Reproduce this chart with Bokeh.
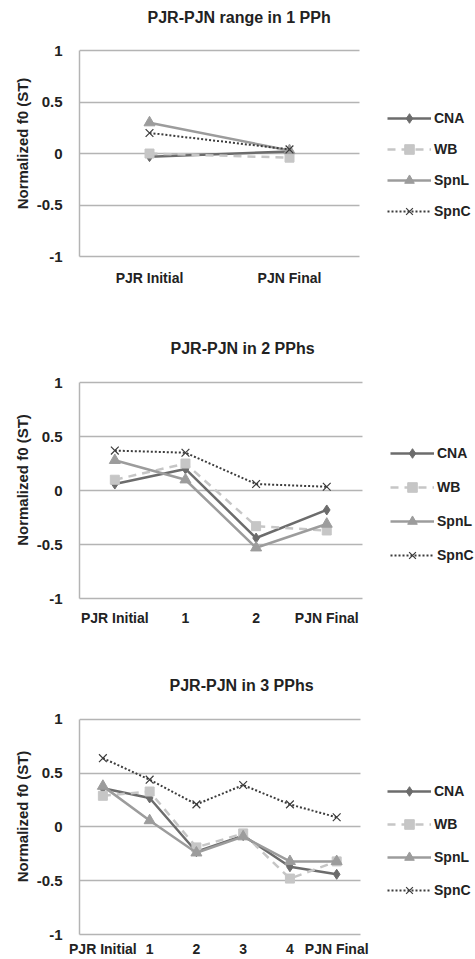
from bokeh.plotting import figure
from bokeh.models import (Range1d, FixedTicker, Legend, LegendItem, Title)
from bokeh.layouts import column
from bokeh.embed import file_html
from bokeh.resources import INLINE

# ---------------- data ----------------
cats1 = ["PJR Initial", "PJN Final"]
cna1 = [-0.03, 0.02]
wb1 = [0.00, -0.04]
spnl1 = [0.30, 0.03]
spnc1 = [0.20, 0.04]

cats2 = ["PJR Initial", "1", "2", "PJN Final"]
cna2 = [0.06, 0.20, -0.44, -0.18]
wb2 = [0.10, 0.25, -0.33, -0.37]
spnl2 = [0.28, 0.10, -0.53, -0.31]
spnc2 = [0.37, 0.35, 0.06, 0.035]

cats3 = ["PJR Initial", "1", "2", "3", "4", "PJN Final"]
cna3 = [0.36, 0.27, -0.23, -0.08, -0.37, -0.44]
wb3 = [0.29, 0.33, -0.19, -0.06, -0.48, -0.32]
spnl3 = [0.38, 0.06, -0.24, -0.09, -0.32, -0.32]
spnc3 = [0.64, 0.44, 0.21, 0.39, 0.21, 0.09]

titles = ["PJR-PJN range in 1 PPh", "PJR-PJN in 2 PPhs", "PJR-PJN in 3 PPhs"]
series_names = ["CNA", "WB", "SpnL", "SpnC"]
y_ticks = [-1, -0.5, 0, 0.5, 1]
y_title = "Normalized f0 (ST)"

FONT = "Liberation Sans"
TXT = "#222222"
GRID = "#b4b4b4"
Y_TOP = 1.195  # headroom above the top gridline, used for the title gap
W = 475

styles = {
    "CNA": dict(color="#6c6c6c", dash="solid", marker="diamond", msize=10, lw=2.5),
    "WB": dict(color="#c6c6c6", dash="8 6", marker="square", msize=9, lw=2.5),
    "SpnL": dict(color="#9c9c9c", dash="solid", marker="triangle", msize=11, lw=2.5),
    "SpnC": dict(color="#3c3c3c", dash="2 2", marker="x", msize=11, lw=2),
}


def make(cats, data, title, h, left, plot_w, top, bottom, t_off,
         xl_stand, leg_xy, leg_spacing):
    n = len(cats)
    xs = list(range(n))
    frame_w = W - left
    x_end = -0.5 + frame_w * n / plot_w  # chart area is plot_w px; rest holds the legend
    p = figure(width=W, height=h, x_range=Range1d(-0.5, x_end),
               y_range=Range1d(-1, Y_TOP), output_backend="svg", toolbar_location=None,
               min_border_left=left, min_border_right=0,
               min_border_top=top, min_border_bottom=bottom)
    p.outline_line_color = None
    p.background_fill_color = "white"
    p.border_fill_color = "white"
    t = Title(text=title, align="left", offset=t_off, standoff=10,
              text_font=FONT, text_font_size="16px", text_font_style="bold",
              text_color=TXT)
    p.add_layout(t, "above")

    p.xgrid.grid_line_color = None
    p.ygrid.grid_line_color = GRID
    p.ygrid.grid_line_width = 1.5
    p.ygrid.cross_bounds = (-0.5, n - 0.5)
    p.yaxis.ticker = FixedTicker(ticks=y_ticks)
    p.yaxis.bounds = (-1, 1)
    p.yaxis.major_label_overrides = {-1: "-1", -0.5: "-0.5", 0: "0", 0.5: "0.5", 1: "1"}
    p.xaxis.ticker = FixedTicker(ticks=xs)
    p.xaxis.bounds = (-0.5, n - 0.5)
    p.xaxis.major_label_overrides = {i: c for i, c in zip(xs, cats)}
    for ax in (p.xaxis[0], p.yaxis[0]):
        ax.axis_line_color = GRID
        ax.axis_line_width = 1.5
        ax.major_tick_line_color = None
        ax.minor_tick_line_color = None
        ax.major_tick_out = 0
        ax.major_tick_in = 0
        ax.major_label_text_font = FONT
        ax.major_label_text_font_style = "bold"
        ax.major_label_text_color = TXT
    p.yaxis.major_label_text_font_size = "15px"
    p.yaxis.major_label_standoff = 17
    p.xaxis.major_label_text_font_size = "14px"
    p.xaxis.major_label_standoff = xl_stand
    p.yaxis.axis_label = y_title
    p.yaxis.axis_label_text_font = FONT
    p.yaxis.axis_label_text_font_style = "bold"
    p.yaxis.axis_label_text_font_size = "15px"
    p.yaxis.axis_label_text_color = TXT
    p.yaxis.axis_label_standoff = 3

    items = []
    for name, ys in zip(series_names, data):
        s = styles[name]
        lr = p.line(xs, ys, line_color=s["color"], line_width=s["lw"], line_dash=s["dash"])
        if s["marker"] == "x":
            mr = p.scatter(xs, ys, marker="x", size=s["msize"], line_color=s["color"],
                           line_width=1.2)
        else:
            mr = p.scatter(xs, ys, marker=s["marker"], size=s["msize"],
                           fill_color=s["color"], line_color=s["color"])
        items.append(LegendItem(label=name, renderers=[lr, mr]))
    leg = Legend(items=items, location=leg_xy, margin=0, padding=0,
                 spacing=leg_spacing, glyph_width=44, glyph_height=24,
                 label_height=20, label_standoff=3,
                 label_text_font=FONT, label_text_font_style="bold",
                 label_text_font_size="14px", label_text_color=TXT,
                 border_line_color=None, background_fill_alpha=0)
    p.add_layout(leg, "center")
    return p


p1 = make(cats1, [cna1, wb1, spnl1, spnc1], titles[0], 320, 79, 280, 30, 64,
          68, 13, (308, 33), 7)
p2 = make(cats2, [cna2, wb2, spnl2, spnc2], titles[1], 320, 77, 284, 41, 42,
          91, 11, (311, 31), 10)
p3 = make(cats3, [cna3, wb3, spnl3, spnc3], titles[2], 319, 77, 282, 58, 24,
          90, 6, (308, 32), 9)

layout = column(p1, p2, p3, spacing=0)
open("out.html", "w").write(file_html(layout, INLINE))
